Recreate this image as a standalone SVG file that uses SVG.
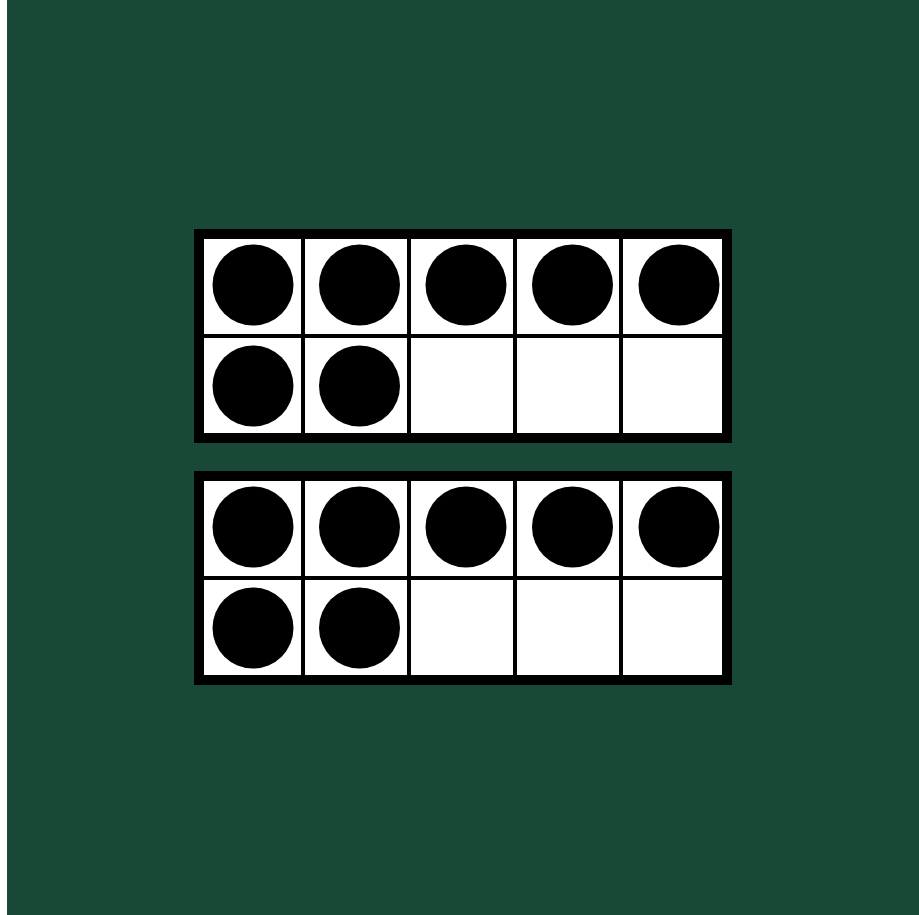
<svg xmlns="http://www.w3.org/2000/svg" width="919" height="915" viewBox="0 0 919 915">
<style>
.frame{fill:#000}
.cell{fill:#fff}
.dot{fill:#000}
</style>
<rect x="0" y="0" width="919" height="915" fill="#ffffff"/>
<rect x="7" y="0" width="912" height="915" fill="#174936"/>
<g id="frame1">
<rect class="frame" x="194" y="229" width="538" height="214"/>
<rect class="cell" x="204" y="239" width="97" height="95"/>
<rect class="cell" x="305" y="239" width="102" height="95"/>
<rect class="cell" x="411" y="239" width="102" height="95"/>
<rect class="cell" x="517" y="239" width="102" height="95"/>
<rect class="cell" x="623" y="239" width="99" height="95"/>
<rect class="cell" x="204" y="338" width="97" height="95"/>
<rect class="cell" x="305" y="338" width="102" height="95"/>
<rect class="cell" x="411" y="338" width="102" height="95"/>
<rect class="cell" x="517" y="338" width="102" height="95"/>
<rect class="cell" x="623" y="338" width="99" height="95"/>
<circle class="dot" cx="253" cy="285" r="40.5"/>
<circle class="dot" cx="359.5" cy="285" r="40.5"/>
<circle class="dot" cx="466" cy="285" r="40.5"/>
<circle class="dot" cx="572.5" cy="285" r="40.5"/>
<circle class="dot" cx="679" cy="285" r="40.5"/>
<circle class="dot" cx="253" cy="386" r="40.5"/>
<circle class="dot" cx="359.5" cy="386" r="40.5"/>
</g>
<g id="frame2">
<rect class="frame" x="194" y="471" width="538" height="214"/>
<rect class="cell" x="204" y="481" width="97" height="95"/>
<rect class="cell" x="305" y="481" width="102" height="95"/>
<rect class="cell" x="411" y="481" width="102" height="95"/>
<rect class="cell" x="517" y="481" width="102" height="95"/>
<rect class="cell" x="623" y="481" width="99" height="95"/>
<rect class="cell" x="204" y="580" width="97" height="95"/>
<rect class="cell" x="305" y="580" width="102" height="95"/>
<rect class="cell" x="411" y="580" width="102" height="95"/>
<rect class="cell" x="517" y="580" width="102" height="95"/>
<rect class="cell" x="623" y="580" width="99" height="95"/>
<circle class="dot" cx="253" cy="527" r="40.5"/>
<circle class="dot" cx="359.5" cy="527" r="40.5"/>
<circle class="dot" cx="466" cy="527" r="40.5"/>
<circle class="dot" cx="572.5" cy="527" r="40.5"/>
<circle class="dot" cx="679" cy="527" r="40.5"/>
<circle class="dot" cx="253" cy="628" r="40.5"/>
<circle class="dot" cx="359.5" cy="628" r="40.5"/>
</g>
<g id="connectors"></g>
</svg>
